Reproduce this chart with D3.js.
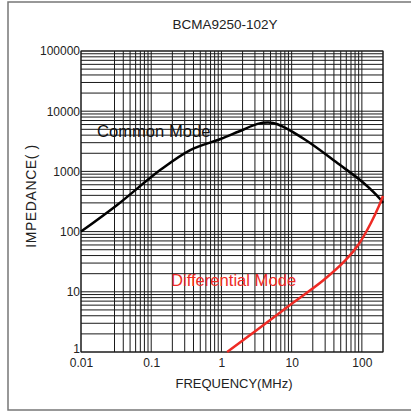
<!DOCTYPE html>
<html>
<head>
<meta charset="utf-8">
<script src="https://cdn.jsdelivr.net/npm/d3@7"></script>
<style>
    body { margin: 0; background: #fff; }
    svg text { font-family: "Liberation Sans", Arial, sans-serif; }
</style>
</head>
<body>
<div id="chart"></div>
<script>
// 阻抗曲线数据 (频率 MHz, 阻抗 Ω)
const commonFreq = [0.01, 0.0327, 0.134, 0.36, 0.97, 1.77, 3.27, 4.66, 6.29, 15.8, 47.4, 103, 187, 200];
const commonZ    = [100, 277, 1055, 2266, 3450, 4600, 6150, 6480, 6060, 3325, 1310, 660, 335, 300];

const diffFreq = [1.205, 3.06, 9.06, 28.6, 59, 90.6, 134.5, 175, 200];
const diffZ    = [1, 2.23, 5.81, 15.7, 33.8, 62.2, 139, 266, 390];

const xTickValues = [0.01, 0.1, 1, 10, 100];
const xTickLabels = ['0.01', '0.1', '1', '10', '100'];
const yTickValues = [1, 10, 100, 1000, 10000, 100000];
const yTickLabels = ['1', '10', '100', '1000', '10000', '100000'];

const width = 411, height = 412;
const plot = { left: 81, right: 383, top: 51, bottom: 352 };

const svg = d3.select('#chart').append('svg')
    .attr('width', width)
    .attr('height', height);

// 外框
svg.append('path')
    .attr('d', `M${width + 5},2 H8 V410 H${width + 5}`)
    .attr('fill', 'none')
    .attr('stroke', '#777')
    .attr('stroke-width', 1.5);

const x = d3.scaleLog().domain([0.01, 200]).range([plot.left, plot.right]);
const y = d3.scaleLog().domain([1, 100000]).range([plot.bottom, plot.top]);

// 网格线
const grid = svg.append('g').attr('class', 'grid');

const xGrid = x.ticks().filter(d => Math.abs(d - 0.02) > 1e-9);
grid.selectAll('.vx')
    .data(xGrid)
    .enter()
    .append('line')
    .attr('x1', d => x(d))
    .attr('x2', d => x(d))
    .attr('y1', plot.top)
    .attr('y2', plot.bottom)
    .attr('stroke', '#1a1a1a')
    .attr('stroke-width', 1);

grid.selectAll('.hy')
    .data(y.ticks())
    .enter()
    .append('line')
    .attr('x1', plot.left)
    .attr('x2', plot.right)
    .attr('y1', d => y(d))
    .attr('y2', d => y(d))
    .attr('stroke', '#1a1a1a')
    .attr('stroke-width', 1);

svg.append('rect')
    .attr('x', plot.left)
    .attr('y', plot.top)
    .attr('width', plot.right - plot.left)
    .attr('height', plot.bottom - plot.top)
    .attr('fill', 'none')
    .attr('stroke', '#1a1a1a')
    .attr('stroke-width', 1);

// 坐标轴
const xAxis = svg.append('g')
    .attr('transform', `translate(0,${plot.bottom})`)
    .call(d3.axisBottom(x)
        .tickValues(xTickValues)
        .tickFormat((d, i) => xTickLabels[i])
        .tickSize(0)
        .tickPadding(6));
xAxis.select('.domain').remove();
xAxis.selectAll('text').attr('font-size', 12).attr('fill', '#222')
    .style('font-family', '"Liberation Sans", Arial, sans-serif');

const yAxis = svg.append('g')
    .attr('transform', `translate(${plot.left},0)`)
    .call(d3.axisLeft(y)
        .tickValues(yTickValues)
        .tickFormat((d, i) => yTickLabels[i])
        .tickSize(0)
        .tickPadding(1));
yAxis.select('.domain').remove();
yAxis.selectAll('text').attr('font-size', 12).attr('fill', '#222')
    .style('font-family', '"Liberation Sans", Arial, sans-serif');
// 最底部的 "1" 稍微上移，避开 0.01
yAxis.selectAll('text').filter(d => d === 1).attr('dy', '0.02em');

// 曲线
const line = d3.line()
    .x(d => x(d[0]))
    .y(d => y(d[1]))
    .curve(d3.curveCatmullRom.alpha(0.5));

svg.append('path')
    .datum(commonFreq.map((f, i) => [f, commonZ[i]]))
    .attr('d', line)
    .attr('fill', 'none')
    .attr('stroke', '#000')
    .attr('stroke-width', 2.5);

svg.append('path')
    .datum(diffFreq.map((f, i) => [f, diffZ[i]]))
    .attr('d', line)
    .attr('fill', 'none')
    .attr('stroke', '#ee2a24')
    .attr('stroke-width', 2.5);

// 文字
svg.append('text')
    .attr('x', 225)
    .attr('y', 29)
    .attr('text-anchor', 'middle')
    .attr('font-size', 13.5)
    .attr('fill', '#222')
    .text('BCMA9250-102Y');

svg.append('text')
    .attr('x', 234)
    .attr('y', 388)
    .attr('text-anchor', 'middle')
    .attr('font-size', 13)
    .attr('fill', '#222')
    .text('FREQUENCY(MHz)');

svg.append('text')
    .attr('transform', 'translate(36,196) rotate(-90)')
    .attr('text-anchor', 'middle')
    .attr('font-size', 14)
    .attr('letter-spacing', 0.6)
    .attr('fill', '#222')
    .text('IMPEDANCE( )');

svg.append('text')
    .attr('x', 97)
    .attr('y', 137)
    .attr('font-size', 16.6)
    .attr('fill', '#111')
    .text('Common Mode');

svg.append('text')
    .attr('x', 171)
    .attr('y', 286)
    .attr('font-size', 16.6)
    .attr('fill', '#ee2a24')
    .text('Differential Mode');
</script>
</body>
</html>
